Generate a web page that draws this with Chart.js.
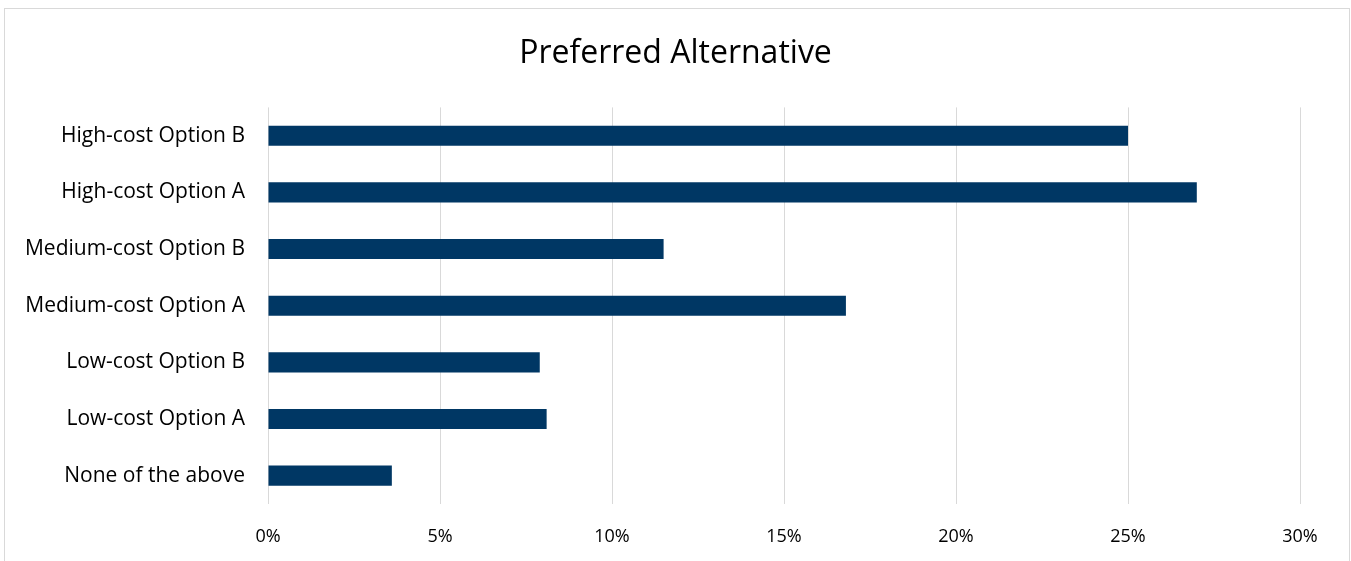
<!DOCTYPE html>
<html>
<head>
<meta charset="utf-8">
<script src="https://cdn.jsdelivr.net/npm/chart.js@4"></script>
<style>
    body { margin: 0; background: #fff; }
    #wrap { position: relative; width: 1351px; height: 561px; }
    #frame { position: absolute; left: 4px; top: 8px; width: 1344px; height: 560px; border: 1px solid #d9d9d9; pointer-events: none; }
</style>
</head>
<body>
<div id="wrap">
    <canvas id="myChart" width="1351" height="561"></canvas>
    <div id="frame"></div>
</div>
<script>
var categories = ['High-cost Option B', 'High-cost Option A', 'Medium-cost Option B', 'Medium-cost Option A',
    'Low-cost Option B', 'Low-cost Option A', 'None of the above'];
var shares = [25.0, 27.0, 11.5, 16.8, 7.9, 8.1, 3.6];
var xTicks = [0, 5, 10, 15, 20, 25, 30];

var fontName = '"Open Sans", Lato, sans-serif';

var ctx = document.getElementById('myChart');
const myChart = new Chart(ctx, {
    type: 'bar',
    data: {
        labels: categories,
        datasets: [{
                label: 'Preferred Alternative',
                data: shares,
                backgroundColor: '#003764',
                borderWidth: 0,
                barPercentage: 0.355,
                categoryPercentage: 1
            }]
    },
    options: {
        indexAxis: 'y',
        responsive: false,
        animation: false,
        layout: {
            padding: 0
        },
        plugins: {
            legend: { display: false },
            tooltip: { enabled: false },
            title: {
                display: true,
                text: 'Preferred Alternative',
                color: '#000',
                font: { family: fontName, size: 32, weight: 'normal' },
                padding: { top: 35, bottom: 34 }
            }
        },
        scales: {
            x: {
                min: 0,
                max: 30,
                afterBuildTicks: function (axis) {
                    axis.ticks = xTicks.map(function (v) { return { value: v }; });
                },
                afterFit: function (axis) { axis.height = 57; },
                grid: { color: '#d9d9d9', lineWidth: 1, drawTicks: false },
                border: { display: false },
                ticks: {
                    color: '#000',
                    padding: 22,
                    maxRotation: 0,
                    font: { family: fontName, size: 18 },
                    callback: function (v) { return v + '%'; }
                }
            },
            y: {
                afterFit: function (axis) { axis.width = 268; },
                grid: { display: false, drawTicks: false },
                border: { display: false },
                ticks: {
                    color: '#000',
                    padding: 23,
                    font: { family: fontName, size: 21 }
                }
            },
            // empty right axis, only keeps the plot area clear of the right edge
            yRight: {
                type: 'category',
                position: 'right',
                afterFit: function (axis) { axis.width = 51; },
                grid: { display: false, drawTicks: false },
                border: { display: false },
                ticks: { display: false }
            }
        }
    }
});
</script>
</body>
</html>
